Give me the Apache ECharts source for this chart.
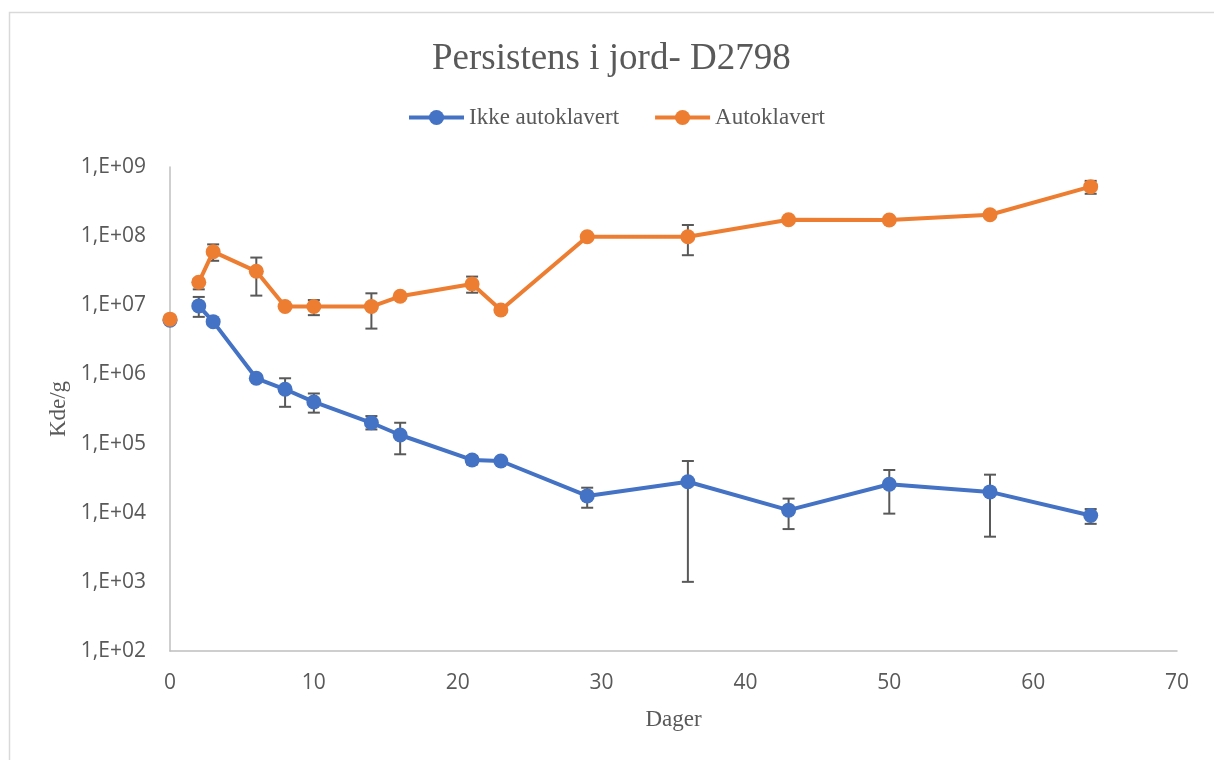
<!DOCTYPE html>
<html>
<head>
<meta charset="utf-8">
<script src="https://cdn.jsdelivr.net/npm/echarts@6/dist/echarts.min.js"></script>
<style>
html,body{margin:0;padding:0;background:#fff;}
#chart{width:1214px;height:760px;}
</style>
</head>
<body>
<div id="chart"></div>
<script>
// ---- data ---- (day 1 has no measurement: the lines break between day 0 and day 2)
const days = [0, 1, 2, 3, 6, 8, 10, 14, 16, 21, 23, 29, 36, 43, 50, 57, 64];
const ikkeAutoklavert = [6.1e6, null, 9.8e6, 5.8e6, 8.8e5, 6.1e5, 4.0e5, 2.0e5, 1.33e5, 5.8e4, 5.6e4, 1.75e4, 2.8e4, 1.09e4, 2.58e4, 2.0e4, 9.1e3];
const ikkeLow  = [null, null, 6.8e6, null, null, 3.4e5, 2.8e5, 1.6e5, 7.0e4, 5.0e4, null, 1.18e4, 1.0e3, 5.8e3, 9.7e3, 4.5e3, 6.9e3];
const ikkeHigh = [null, null, 1.32e7, null, null, 8.8e5, 5.3e5, 2.5e5, 2.0e5, 6.6e4, null, 2.3e4, 5.6e4, 1.6e4, 4.15e4, 3.55e4, 1.13e4];
const autoklavert = [6.3e6, null, 2.15e7, 5.96e7, 3.1e7, 9.6e6, 9.6e6, 9.6e6, 1.35e7, 2.03e7, 8.55e6, 9.8e7, 9.8e7, 1.73e8, 1.71e8, 2.04e8, 5.2e8];
const autoLow  = [null, null, 1.7e7, 4.4e7, 1.38e7, null, 7.2e6, 4.6e6, null, 1.52e7, null, null, 5.3e7, null, null, null, 4.1e8];
const autoHigh = [null, null, 2.4e7, 7.6e7, 4.9e7, null, 1.19e7, 1.49e7, null, 2.6e7, null, null, 1.45e8, null, null, null, 6.3e8];
const seriesNames = ['Ikke autoklavert', 'Autoklavert'];
const yTickLabels = ['1,E+02', '1,E+03', '1,E+04', '1,E+05', '1,E+06', '1,E+07', '1,E+08', '1,E+09'];
const xTickLabels = ['0', '10', '20', '30', '40', '50', '60', '70'];

const BLUE = '#4472C4', ORANGE = '#ED7D31', TXT = '#595959';
const serif = '"Liberation Serif", "Times New Roman", serif';
const sans = '"Open Sans", sans-serif';

function pairs(xs, ys) { return xs.map((x, i) => [x, ys[i] == null ? '-' : ys[i]]); }
function errData(xs, lo, hi) {
  const out = [];
  xs.forEach((x, i) => { if (lo[i] != null && hi[i] != null) out.push([x, lo[i], hi[i]]); });
  return out;
}
function errRender(params, api) {
  const x = api.value(0);
  const p1 = api.coord([x, api.value(1)]);
  const p2 = api.coord([x, api.value(2)]);
  const hw = 6;
  const st = { stroke: '#595959', lineWidth: 2 };
  return {
    type: 'group',
    children: [
      { type: 'line', shape: { x1: p1[0], y1: p1[1], x2: p2[0], y2: p2[1] }, style: st },
      { type: 'line', shape: { x1: p1[0] - hw, y1: p1[1], x2: p1[0] + hw, y2: p1[1] }, style: st },
      { type: 'line', shape: { x1: p2[0] - hw, y1: p2[1], x2: p2[0] + hw, y2: p2[1] }, style: st }
    ]
  };
}

const chart = echarts.init(document.getElementById('chart'), null, { renderer: 'canvas' });
chart.setOption({
  backgroundColor: '#fff',
  animation: false,
  graphic: [{
    type: 'rect', shape: { x: 9.5, y: 12.5, width: 1400, height: 900 },
    style: { fill: 'none', stroke: '#d9d9d9', lineWidth: 1.5 }, silent: true
  }],
  title: {
    text: 'Persistens i jord- D2798',
    left: 427, top: 36,
    textStyle: { fontFamily: serif, fontSize: 37, fontWeight: 'normal', color: TXT }
  },
  legend: {
    data: seriesNames,
    left: 402, top: 101,
    itemWidth: 55, itemHeight: 19, itemGap: 34,
    lineStyle: { width: 4 },
    textStyle: { fontFamily: serif, fontSize: 23, color: TXT }
  },
  grid: { left: 170, right: 37, top: 167, bottom: 109, containLabel: false },
  xAxis: {
    type: 'value', min: 0, max: 70, interval: 10,
    name: 'Dager', nameLocation: 'middle', nameGap: 57,
    nameTextStyle: { fontFamily: serif, fontSize: 23, color: TXT },
    axisLine: { show: true, lineStyle: { color: '#bfbfbf', width: 1.5 } },
    axisTick: { show: false },
    splitLine: { show: false },
    axisLabel: {
      margin: 22, fontFamily: sans, fontSize: 21, color: TXT,
      formatter: v => xTickLabels[Math.round(v / 10)]
    }
  },
  yAxis: {
    type: 'log', logBase: 10, min: 100, max: 1e9,
    name: 'Kde/g', nameLocation: 'middle', nameGap: 100, nameRotate: 90,
    nameTextStyle: { fontFamily: serif, fontSize: 23, color: TXT },
    axisLine: { show: true, lineStyle: { color: '#bfbfbf', width: 1.5 } },
    axisTick: { show: false },
    splitLine: { show: false },
    axisLabel: {
      margin: 24, fontFamily: sans, fontSize: 21, color: TXT,
      formatter: v => yTickLabels[Math.round(Math.log10(v)) - 2]
    }
  },
  series: [
    {
      type: 'custom', name: 'errIkke', renderItem: errRender,
      data: errData(days, ikkeLow, ikkeHigh), encode: { x: 0, y: [1, 2] }, z: 1, silent: true
    },
    {
      type: 'custom', name: 'errAuto', renderItem: errRender,
      data: errData(days, autoLow, autoHigh), encode: { x: 0, y: [1, 2] }, z: 1, silent: true
    },
    {
      type: 'line', name: seriesNames[0], data: pairs(days, ikkeAutoklavert),
      symbol: 'circle', symbolSize: 15, z: 3, connectNulls: false,
      lineStyle: { color: BLUE, width: 4 }, itemStyle: { color: BLUE }
    },
    {
      type: 'line', name: seriesNames[1], data: pairs(days, autoklavert),
      symbol: 'circle', symbolSize: 15, z: 4, connectNulls: false,
      lineStyle: { color: ORANGE, width: 4 }, itemStyle: { color: ORANGE }
    }
  ]
});
</script>
</body>
</html>
